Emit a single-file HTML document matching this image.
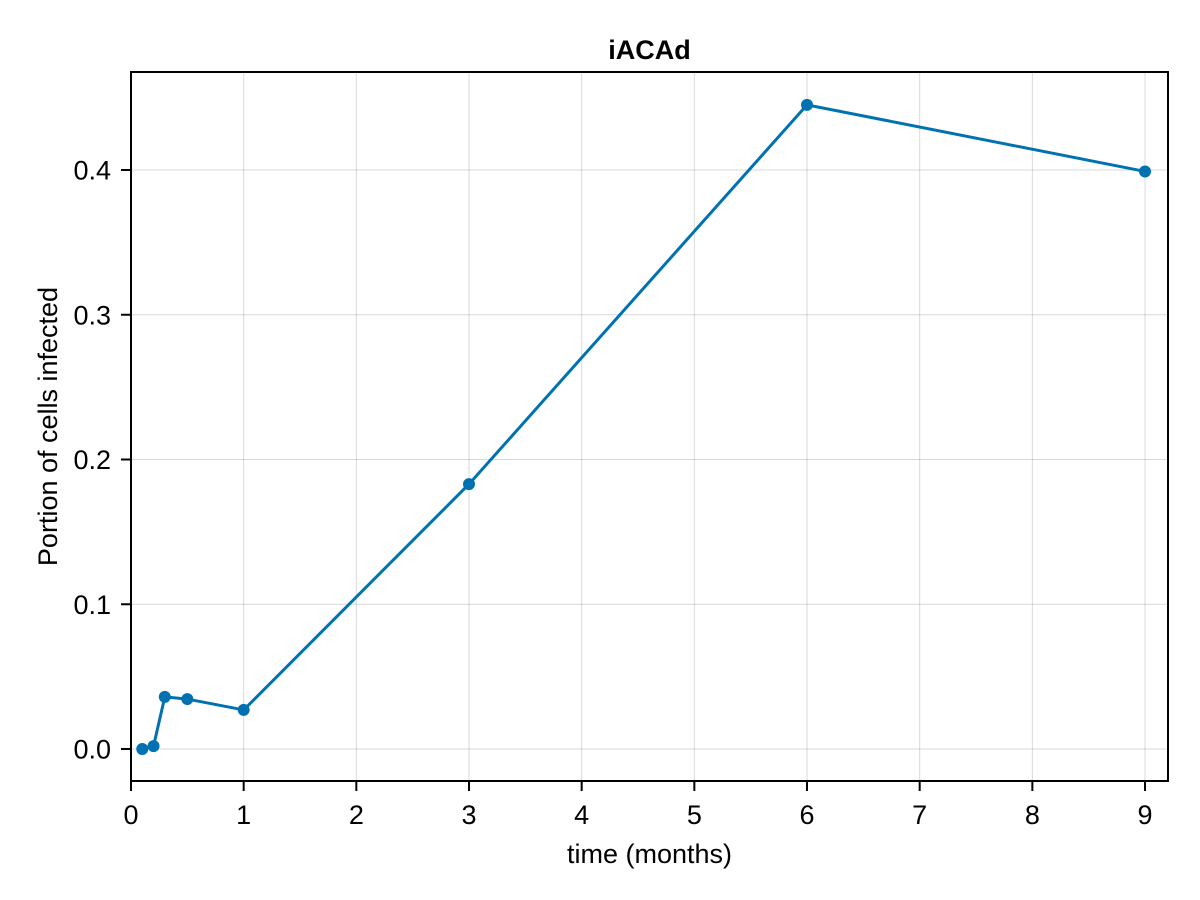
<!DOCTYPE html>
<html><head><meta charset="utf-8"><style>
html,body{margin:0;padding:0;background:#fff;}
svg{display:block;font-family:"Liberation Sans",Arial,sans-serif;}
</style></head><body>
<svg id="chart" width="1200" height="900" viewBox="0 0 1200 900" xmlns="http://www.w3.org/2000/svg"></svg>
<script>
const xValues = [0.1, 0.2, 0.3, 0.5, 1, 3, 6, 9];
const yValues = [0.0, 0.002, 0.036, 0.0345, 0.027, 0.183, 0.445, 0.399];
const xTicks = [0,1,2,3,4,5,6,7,8,9];
const yTicks = [0.0,0.1,0.2,0.3,0.4];
const yTickLabels = ["0.0","0.1","0.2","0.3","0.4"];

const L=131,R=1168,T=72,B=781;
const xMin=0,xMax=9.204,yMin=-0.0221,yMax=0.4677;
const sx=v=>L+(v-xMin)/(xMax-xMin)*(R-L);
const sy=v=>B-(v-yMin)/(yMax-yMin)*(B-T);
const svg=document.getElementById('chart');
const NS='http://www.w3.org/2000/svg';
function mk(tag,attrs,parent){const e=document.createElementNS(NS,tag);for(const k in attrs)e.setAttribute(k,attrs[k]);(parent||svg).appendChild(e);return e;}

const grid=mk('g',{});


xTicks.forEach(t=>{const l=mk('line',{x1:sx(t),x2:sx(t),y1:T,y2:B,stroke:'#000','stroke-opacity':0.15,'stroke-width':1},grid);

});
yTicks.forEach(t=>{const l=mk('line',{x1:L,x2:R,y1:sy(t),y2:sy(t),stroke:'#000','stroke-opacity':0.15,'stroke-width':1},grid);

});

const frame=mk('rect',{x:L,y:T,width:R-L,height:B-T,fill:'none',stroke:'#000','stroke-width':2});



xTicks.forEach(t=>{
  const tk=mk('line',{x1:sx(t),x2:sx(t),y1:B,y2:B+10,stroke:'#000','stroke-width':2});
  
  
  const tx=mk('text',{x:sx(t),y:824,'text-anchor':'middle','font-size':27,fill:'#000'});tx.textContent=String(t);
  
  
});
yTicks.forEach((t,i)=>{
  const tk=mk('line',{x1:L-10,x2:L,y1:sy(t),y2:sy(t),stroke:'#000','stroke-width':2});
  
  
  const tx=mk('text',{x:111,y:sy(t)+9.5,'text-anchor':'end','font-size':27,fill:'#000'});tx.textContent=yTickLabels[i];
  
  
});

const path=mk('polyline',{points:xValues.map((x,i)=>sx(x)+','+sy(yValues[i])).join(' '),fill:'none',stroke:'#0072b2','stroke-width':3});


xValues.forEach((x,i)=>{
  const c=mk('circle',{cx:sx(x),cy:sy(yValues[i]),r:6,fill:'#0072b2'});
  
  
});

const title=mk('text',{x:(L+R)/2,y:59,'text-anchor':'middle','font-size':27,'font-weight':'bold'});title.textContent='iACAd';


const xl=mk('text',{x:(L+R)/2,y:863,'text-anchor':'middle','font-size':27});xl.textContent='time (months)';


const yl=mk('text',{x:0,y:0,'text-anchor':'middle','font-size':27,transform:'translate(57,'+((T+B)/2)+') rotate(-90)'});yl.textContent='Portion of cells infected';


</script>
</body></html>
